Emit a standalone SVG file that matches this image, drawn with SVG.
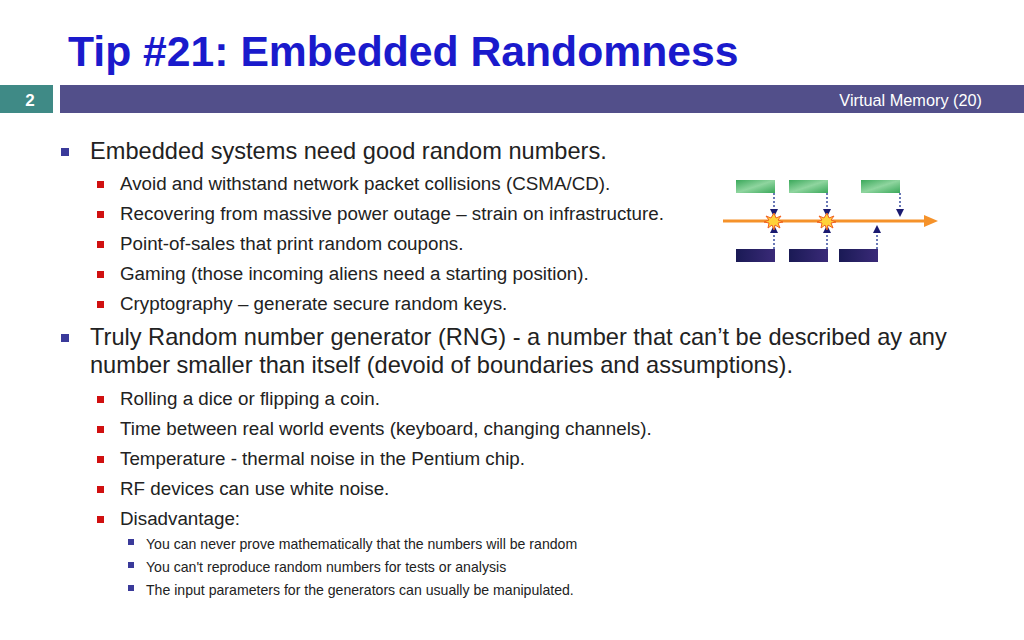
<svg xmlns="http://www.w3.org/2000/svg" width="1024" height="640" viewBox="0 0 1024 640">
<style>
text{font-family:"Liberation Sans",Arial,sans-serif;fill:#222}
.l1{font-size:23.6px}.l2{font-size:18.8px}.l3{font-size:14.1px}
.dot{stroke:#3a4ea0;stroke-width:1.5;stroke-dasharray:2 2;fill:none}
</style>
<defs>
<linearGradient id="g" x1="0" y1="0" x2="1" y2="1"><stop offset="0" stop-color="#3aa85a"/><stop offset=".5" stop-color="#8fd59f"/><stop offset="1" stop-color="#3aa85a"/></linearGradient>
<linearGradient id="d" x1="0" y1="0" x2="1" y2="0"><stop offset="0" stop-color="#1a1a55"/><stop offset="1" stop-color="#3a2a78"/></linearGradient>
<marker id="ah" markerWidth="8" markerHeight="8" refX="7" refY="4" orient="auto" markerUnits="userSpaceOnUse"><path d="M0,0L8,4L0,8z" fill="#1a1a70"/></marker>
</defs>
<rect width="1024" height="640" fill="#fff"/>
<text x="68" y="66" style="font-size:42.7px;font-weight:bold;fill:#1a1acc">Tip #21: Embedded Randomness</text>
<rect x="0" y="85" width="53" height="28" fill="#3f8a86"/>
<text x="30" y="106" text-anchor="middle" style="font-size:17px;font-weight:bold;fill:#fff">2</text>
<rect x="60" y="85" width="964" height="28" fill="#524f8a"/>
<text x="982" y="106" text-anchor="end" style="font-size:16.3px;fill:#fff">Virtual Memory (20)</text>
<g fill="#3a3a9a"><rect x="61" y="148" width="8" height="8"/><rect x="61" y="334" width="8" height="8"/>
<rect x="128" y="539" width="6" height="6"/><rect x="128" y="562" width="6" height="6"/><rect x="128" y="585" width="6" height="6"/></g>
<g fill="#d01010"><rect x="97" y="181" width="7" height="7"/><rect x="97" y="211" width="7" height="7"/><rect x="97" y="241" width="7" height="7"/><rect x="97" y="271" width="7" height="7"/><rect x="97" y="301" width="7" height="7"/>
<rect x="97" y="396" width="7" height="7"/><rect x="97" y="426" width="7" height="7"/><rect x="97" y="456" width="7" height="7"/><rect x="97" y="486" width="7" height="7"/><rect x="97" y="516" width="7" height="7"/></g>
<text class="l1" x="90" y="159">Embedded systems need good random numbers.</text>
<text class="l2" x="120" y="190">Avoid and withstand network packet collisions (CSMA/CD).</text>
<text class="l2" x="120" y="220">Recovering from massive power outage – strain on infrastructure.</text>
<text class="l2" x="120" y="250">Point-of-sales that print random coupons.</text>
<text class="l2" x="120" y="280">Gaming (those incoming aliens need a starting position).</text>
<text class="l2" x="120" y="310">Cryptography – generate secure random keys.</text>
<text class="l1" x="90" y="345">Truly Random number generator (RNG) - a number that can’t be described ay any</text>
<text class="l1" x="90" y="373">number smaller than itself (devoid of boundaries and assumptions).</text>
<text class="l2" x="120" y="405">Rolling a dice or flipping a coin.</text>
<text class="l2" x="120" y="435">Time between real world events (keyboard, changing channels).</text>
<text class="l2" x="120" y="465">Temperature - thermal noise in the Pentium chip.</text>
<text class="l2" x="120" y="495">RF devices can use white noise.</text>
<text class="l2" x="120" y="525">Disadvantage:</text>
<text class="l3" x="146" y="549">You can never prove mathematically that the numbers will be random</text>
<text class="l3" x="146" y="572">You can't reproduce random numbers for tests or analysis</text>
<text class="l3" x="146" y="595">The input parameters for the generators can usually be manipulated.</text>
<g id="figure">
<rect x="736" y="180" width="39" height="13" fill="url(#g)"/><rect x="789" y="180" width="39" height="13" fill="url(#g)"/><rect x="861" y="180" width="39" height="13" fill="url(#g)"/>
<rect x="736" y="249" width="39" height="13" fill="url(#d)"/><rect x="789" y="249" width="39" height="13" fill="url(#d)"/><rect x="839" y="249" width="39" height="13" fill="url(#d)"/>
<line x1="723" y1="221" x2="928" y2="221" stroke="#f5922a" stroke-width="3"/>
<path d="M924,215L938,221L924,227z" fill="#f5922a"/>
<g class="dot" marker-end="url(#ah)">
<path d="M774,193V216"/><path d="M827,193V216"/><path d="M900,193V216"/>
<path d="M774,249V226"/><path d="M827,249V226"/><path d="M877,249V226"/></g>
<g fill="#ffd23a" stroke="#f06020" stroke-width="1">
<path d="M774,213l2,5 5,-2 -3,4 5,2 -5,1 2,5 -5,-3 -1,5 -2,-5 -4,3 1,-5 -5,-1 5,-2 -3,-4 5,2z"/>
<path d="M827,213l2,5 5,-2 -3,4 5,2 -5,1 2,5 -5,-3 -1,5 -2,-5 -4,3 1,-5 -5,-1 5,-2 -3,-4 5,2z"/></g>
</g>
</svg>
